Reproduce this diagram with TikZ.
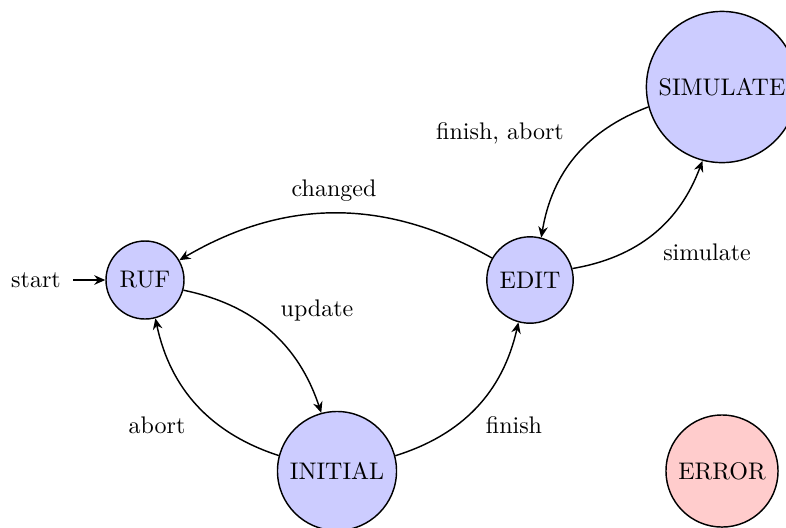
\documentclass[tikz,border=0pt]{standalone}
\usetikzlibrary{arrows.meta}
\begin{document}
\begin{tikzpicture}[x=0.41667pt,y=-0.41667pt,
  state/.style={circle,draw,semithick,inner sep=0pt,fill=blue!20},
  errstate/.style={circle,draw,semithick,inner sep=0pt,fill=red!20},
  conn/.style={semithick,-{Stealth[length=4.6pt,width=4pt,inset=1.5pt]}},
  lbl/.style={inner sep=0pt}]
\useasboundingbox (0,0) rectangle (786,527);
\node[state,minimum size=32.5pt] (RUF) at (145,280) {RUF};
\node[state,minimum size=36pt] (EDIT) at (530,280) {EDIT};
\node[state,minimum size=49.6pt] (INITIAL) at (337,471) {INITIAL};
\node[state,minimum size=63pt] (SIM) at (722,87) {SIMULATE};
\node[errstate,minimum size=46.7pt] (ERR) at (722,471) {ERROR};
\node[inner sep=5pt] (st) at (36,280) {start};
\draw[conn] (st) -- (RUF);
\draw[conn] (RUF) to[bend left=30] (INITIAL);
\draw[conn] (INITIAL) to[bend left=30] (RUF);
\draw[conn] (INITIAL) to[bend right=30] (EDIT);
\draw[conn] (EDIT) to[bend right=30] (RUF);
\draw[conn] (EDIT) to[bend right=30] (SIM);
\draw[conn] (SIM) to[bend right=30] (EDIT);
\node[lbl] (l1) at (317,310) {update};
\node[lbl] (l2) at (157,425) {abort};
\node[lbl] (l3) at (514,425) {finish};
\node[lbl] (l4) at (334,191) {changed};
\node[lbl] (l5) at (707,252) {simulate};
\node[lbl] (l6) at (500,133) {finish, abort};
\end{tikzpicture}
\end{document}
